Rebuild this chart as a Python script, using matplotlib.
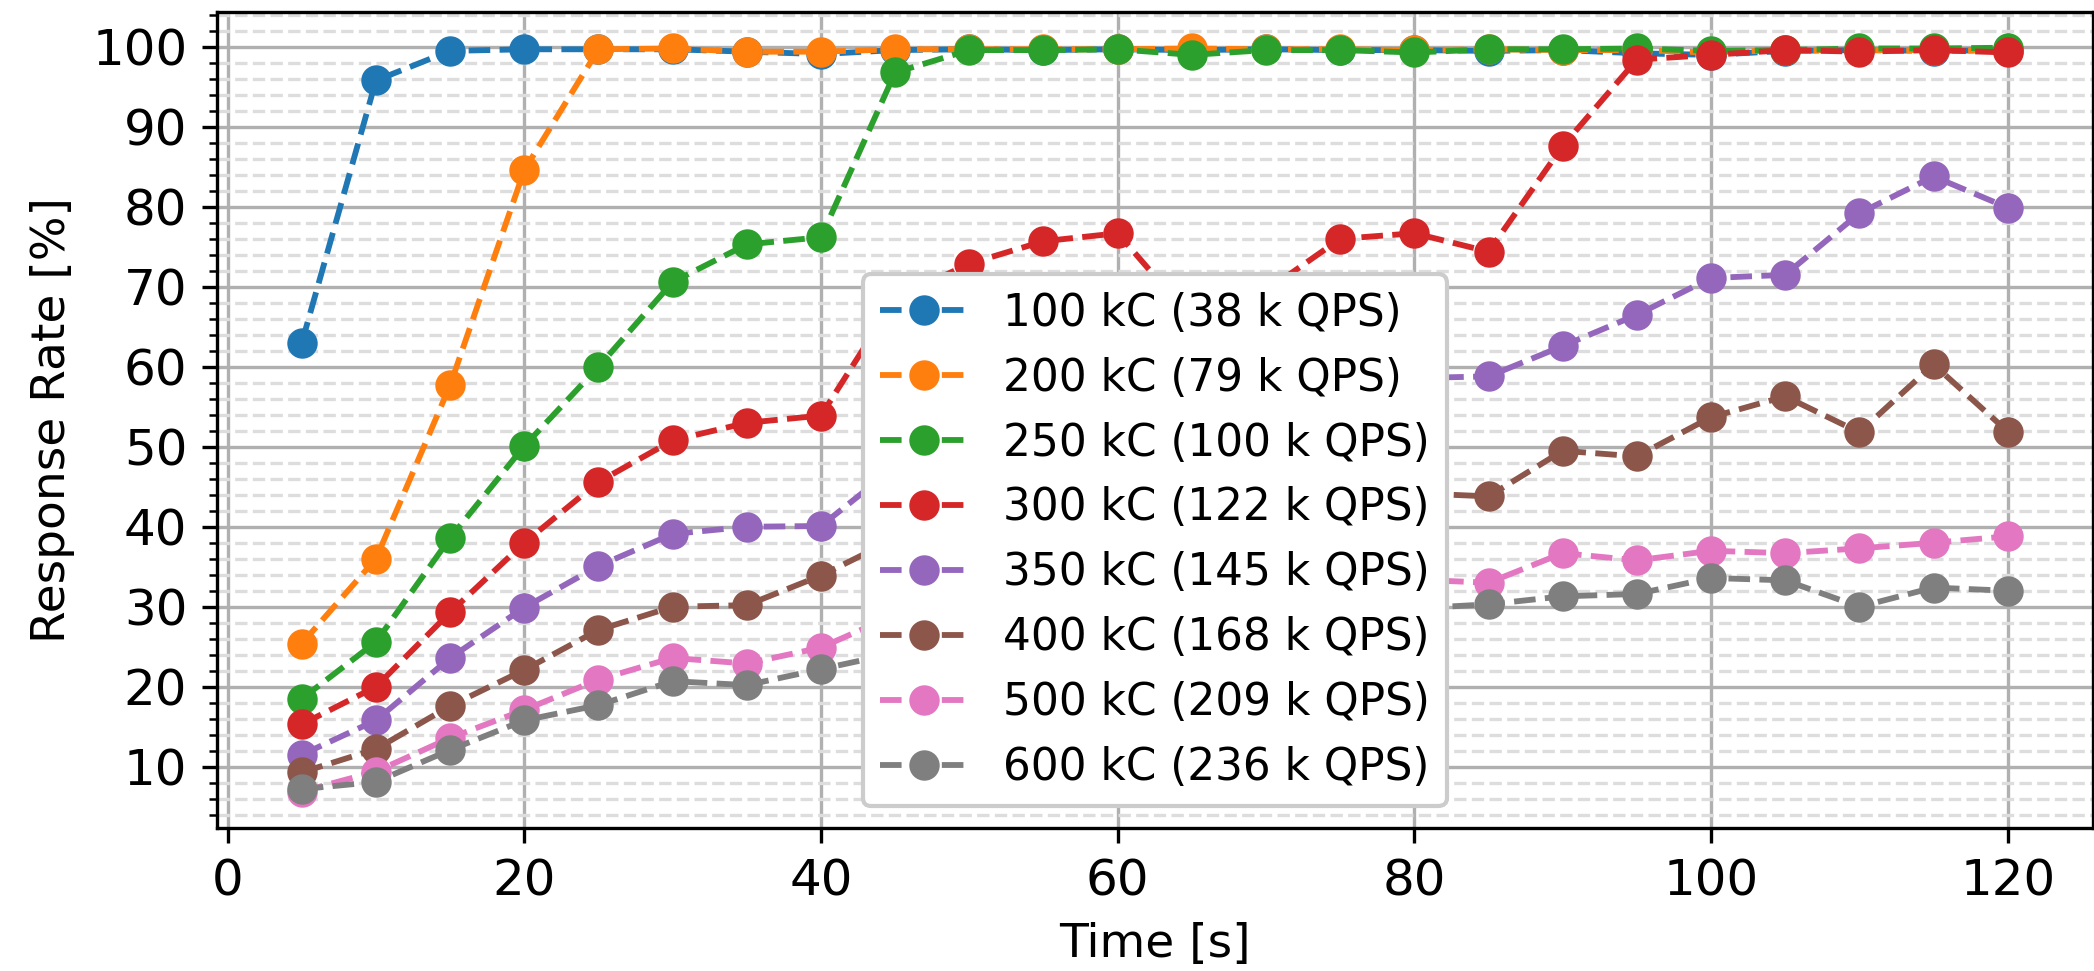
import numpy as np
import matplotlib
matplotlib.use("Agg")
import matplotlib.pyplot as plt
from matplotlib.ticker import AutoMinorLocator

# 数据
time_s = [5, 10, 15, 20, 25, 30, 35, 40, 45, 50, 55, 60, 65, 70, 75, 80, 85, 90, 95, 100, 105, 110, 115, 120]

labels = [
    "100 kC (38 k QPS)",
    "200 kC (79 k QPS)",
    "250 kC (100 k QPS)",
    "300 kC (122 k QPS)",
    "350 kC (145 k QPS)",
    "400 kC (168 k QPS)",
    "500 kC (209 k QPS)",
    "600 kC (236 k QPS)",
]

rate_100k = [63.0, 95.8, 99.5, 99.7, 99.7, 99.7, 99.4, 99.1, 99.6, 99.7, 99.6, 99.7, 99.6, 99.7,
             99.6, 99.6, 99.5, 99.6, 99.2, 99.0, 99.5, 99.6, 99.5, 99.6]
rate_200k = [25.4, 36.0, 57.7, 84.6, 99.7, 99.8, 99.4, 99.4, 99.7, 99.7, 99.7, 99.7, 99.8, 99.7,
             99.7, 99.6, 99.7, 99.6, 99.6, 99.3, 99.6, 99.6, 99.6, 99.5]
rate_250k = [18.5, 25.6, 38.6, 50.1, 60.0, 70.6, 75.3, 76.2, 96.8, 99.6, 99.6, 99.7, 99.0, 99.6,
             99.6, 99.3, 99.7, 99.7, 99.8, 99.5, 99.6, 99.8, 99.8, 99.9]
rate_300k = [15.3, 20.0, 29.3, 38.0, 45.6, 50.8, 53.0, 53.9, 68.5, 72.9, 75.7, 76.7, 66.0, 69.5,
             76.0, 76.7, 74.4, 87.6, 98.4, 99.0, 99.6, 99.4, 99.6, 99.3]
rate_350k = [11.5, 15.8, 23.6, 29.9, 35.1, 39.1, 40.0, 40.1, 47.5, 52.0, 54.0, 55.0, 55.5, 56.5,
             57.5, 58.6, 58.8, 62.6, 66.5, 71.1, 71.5, 79.2, 83.8, 79.9]
rate_400k = [9.3, 12.2, 17.6, 22.1, 27.1, 30.0, 30.2, 33.9, 38.5, 40.0, 41.0, 41.5, 42.0, 42.5,
             43.5, 44.2, 43.8, 49.5, 48.8, 53.7, 56.3, 51.8, 60.3, 51.9]
rate_500k = [6.9, 9.4, 13.6, 17.1, 20.9, 23.6, 22.9, 24.9, 29.0, 30.5, 31.0, 31.5, 32.0, 32.5,
             33.0, 33.4, 33.0, 36.7, 35.8, 37.0, 36.7, 37.3, 38.0, 38.8]
rate_600k = [7.2, 8.1, 12.1, 15.8, 17.7, 20.7, 20.2, 22.2, 24.2, 26.0, 27.0, 28.0, 28.5, 29.0,
             29.5, 29.8, 30.3, 31.3, 31.6, 33.6, 33.3, 30.0, 32.4, 32.0]

series = [rate_100k, rate_200k, rate_250k, rate_300k, rate_350k, rate_400k, rate_500k, rate_600k]

# 绘图
fig = plt.figure(figsize=(2094 / 300, 971 / 300), dpi=300)
ax = fig.add_axes([216.5 / 2094, 1 - 828.3 / 971, (2093 - 216.5) / 2094, (828.3 - 11.7) / 971])

for vals, lab in zip(series, labels):
    ax.plot(time_s, vals, linestyle="--", marker="o", markersize=6.3, linewidth=1.4, label=lab)

ax.set_xlim(-0.75, 125.75)
ax.set_ylim(2.3, 104.4)
ax.set_xticks([0, 20, 40, 60, 80, 100, 120])
ax.set_yticks([10, 20, 30, 40, 50, 60, 70, 80, 90, 100])
ax.yaxis.set_minor_locator(AutoMinorLocator(5))
ax.tick_params(axis="both", which="major", labelsize=12)

ax.grid(which="major", color="#b0b0b0", linewidth=0.8)
ax.grid(which="minor", axis="y", color="#dddddd", linestyle="--", linewidth=0.8)

ax.set_xlabel("Time [s]", fontsize=11.3)
ax.set_ylabel("Response Rate [%]", fontsize=11.3)

ax.legend(loc="lower center", fontsize=10.5, framealpha=1.0)

fig.savefig("out.png", dpi=300)
